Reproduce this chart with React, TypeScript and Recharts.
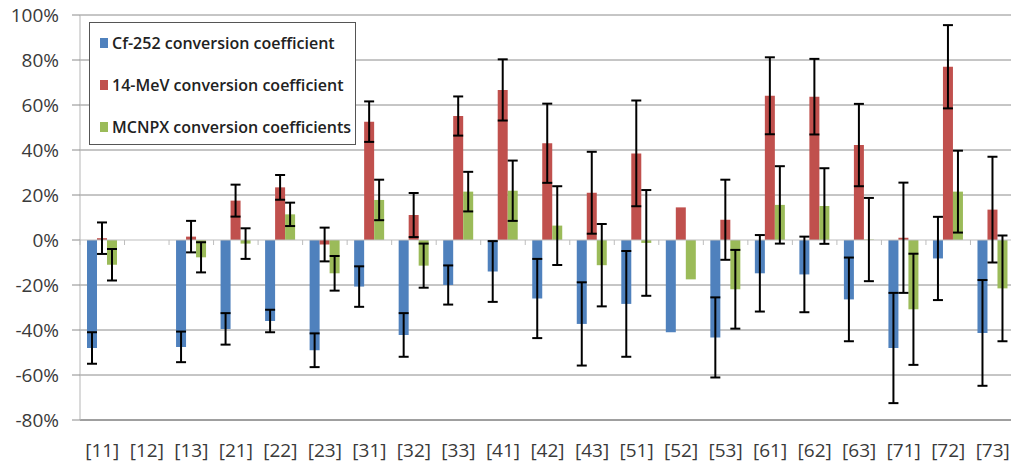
import React from 'react';
import { BarChart, Bar, XAxis, YAxis, CartesianGrid, ErrorBar, Legend, ReferenceLine } from 'recharts';

const categories = ['[11]', '[12]', '[13]', '[21]', '[22]', '[23]', '[31]', '[32]', '[33]', '[41]', '[42]', '[43]', '[51]', '[52]', '[53]', '[61]', '[62]', '[63]', '[71]', '[72]', '[73]'];

const cf252 = [-48, null, -47.5, -39.5, -36, -49, -20.7, -42.2, -20, -14, -26, -37.3, -28.4, -41, -43.3, -14.8, -15.3, -26.4, -48, -8.2, -41.3];
const cf252Err = [7, null, 6.8, 7, 5, 7.5, 9, 9.7, 8.7, 13.5, 17.6, 18.5, 23.5, null, 17.8, 17, 16.8, 18.6, 24.5, 18.5, 23.5];

const mev14 = [0.8, null, 1.5, 17.5, 23.4, -2, 52.6, 11.1, 55.1, 66.7, 43, 21, 38.5, 14.5, 9, 64.1, 63.7, 42.2, 1, 77, 13.5];
const mev14Err = [7, null, 7, 7.1, 5.5, 7.5, 9, 9.8, 8.7, 13.6, 17.6, 18.2, 23.5, null, 17.8, 17.1, 16.8, 18.3, 24.5, 18.5, 23.5];

const mcnpx = [-11, null, -7.7, -1.6, 11.4, -14.8, 17.8, -11.4, 21.5, 21.9, 6.4, -11.2, -1.3, -17.5, -21.9, 15.6, 15.1, 0.2, -30.8, 21.5, -21.5];
const mcnpxErr = [7, null, 6.7, 6.8, 5.2, 7.7, 9, 9.8, 8.8, 13.4, 17.5, 18.3, 23.5, null, 17.5, 17.2, 16.8, 18.5, 24.7, 18.2, 23.5];

const yTicks = [-80, -60, -40, -20, 0, 20, 40, 60, 80, 100];

const seriesNames = ['Cf-252 conversion coefficient', '14-MeV conversion coefficient', 'MCNPX conversion coefficients'];
const colors = ['#4F81BD', '#C0504D', '#9BBB59'];

const data = categories.map((name, i) => ({
  name,
  cf: cf252[i],
  cfErr: cf252Err[i],
  mev: mev14[i],
  mevErr: mev14Err[i],
  mc: mcnpx[i],
  mcErr: mcnpxErr[i],
}));

const W = 1011;
const H = 468;
const M = { top: 15, right: -4, bottom: 0, left: 0 };
const Y_W = 80;
const X_H = 48;
const plotH = H - M.top - M.bottom - X_H;
const bandW = (W - M.left - M.right - Y_W) / categories.length;
const zeroY = M.top + (plotH * 100) / 180;

const font = '"Open Sans", sans-serif';

function XTick(props: any) {
  const { x, payload, index } = props;
  return (
    <g>
      <line x1={x - bandW / 2} x2={x - bandW / 2} y1={zeroY} y2={zeroY + 5} stroke="#bdbdbd" />
      {index === categories.length - 1 && (
        <line x1={x + bandW / 2} x2={x + bandW / 2} y1={zeroY} y2={zeroY + 5} stroke="#bdbdbd" />
      )}
      <text x={x} y={457} textAnchor="middle" fill="#3a3a3a" fontSize={19} fontFamily={font}>
        {payload.value}
      </text>
    </g>
  );
}

function LegendBox() {
  return (
    <div
      style={{
        width: 267,
        height: 123,
        border: '1px solid #555',
        background: '#fff',
        fontFamily: font,
        fontSize: 16,
        fontWeight: 600,
        color: '#222',
        boxSizing: 'border-box',
        paddingLeft: 10,
        paddingTop: 0,
      }}
    >
      {seriesNames.map((n, i) => (
        <div key={n} style={{ display: 'flex', alignItems: 'center', height: 42, marginTop: i === 0 ? -1 : 0 }}>
          <span style={{ width: 8, height: 10, background: colors[i], marginRight: 4, display: 'inline-block', flexShrink: 0 }} />
          <span style={{ whiteSpace: 'nowrap' }}>{n}</span>
        </div>
      ))}
    </div>
  );
}

export default function App() {
  return (
    <div style={{ position: 'absolute', left: 0, top: 0, width: W, height: H, background: '#fff' }}>
      <BarChart width={W} height={H} data={data} margin={M} barCategoryGap={7} barGap={0}>
        <CartesianGrid vertical={false} stroke="#8c8c8c" horizontalValues={[-80, -60, -40, -20, 20, 40, 60, 80, 100]} />
        <XAxis
          dataKey="name"
          height={X_H}
          tick={<XTick />}
          tickLine={false}
          axisLine={{ stroke: '#7a7a7a' }}
          interval={0}
        />
        <YAxis
          width={Y_W}
          domain={[-80, 100]}
          ticks={yTicks}
          tickFormatter={(v) => `${v}%`}
          tick={{ fill: '#3a3a3a', fontSize: 19, fontFamily: font }}
          tickSize={8}
          tickMargin={13}
          tickLine={{ stroke: '#8c8c8c' }}
          axisLine={{ stroke: '#b5b5b5' }}
          interval={0}
        />
        <ReferenceLine y={0} stroke="#bdbdbd" />
        <Legend
          layout="vertical"
          align="center"
          verticalAlign="middle"
          wrapperStyle={{ left: 89, top: 22, width: 267, height: 123 }}
          content={() => <LegendBox />}
        />
        <Bar dataKey="cf" name={seriesNames[0]} fill={colors[0]} isAnimationActive={false}>
          <ErrorBar dataKey="cfErr" width={5} stroke="#000" strokeWidth={2} direction="y" />
        </Bar>
        <Bar dataKey="mev" name={seriesNames[1]} fill={colors[1]} isAnimationActive={false}>
          <ErrorBar dataKey="mevErr" width={5} stroke="#000" strokeWidth={2} direction="y" />
        </Bar>
        <Bar dataKey="mc" name={seriesNames[2]} fill={colors[2]} isAnimationActive={false}>
          <ErrorBar dataKey="mcErr" width={5} stroke="#000" strokeWidth={2} direction="y" />
        </Bar>
      </BarChart>
    </div>
  );
}
